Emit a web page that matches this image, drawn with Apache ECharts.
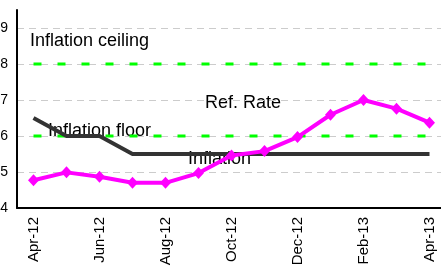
<!DOCTYPE html>
<html>
<head>
<meta charset="utf-8">
<script src="https://cdn.jsdelivr.net/npm/echarts@6/dist/echarts.min.js"></script>
<style>
  html, body { margin: 0; padding: 0; background: #fff; }
  #chart { width: 441px; height: 266px; }
</style>
</head>
<body>
<div id="chart"></div>
<script>
// monthly data, Apr-12 .. Apr-13
var months = ["Apr-12", "May-12", "Jun-12", "Jul-12", "Aug-12", "Sep-12", "Oct-12",
  "Nov-12", "Dec-12", "Jan-13", "Feb-13", "Mar-13", "Apr-13"];
var inflation = [4.77, 4.99, 4.87, 4.7, 4.7, 4.97, 5.46, 5.58, 5.97, 6.59, 7.0, 6.76, 6.37];
var refRate = [6.5, 6.0, 6.0, 5.5, 5.5, 5.5, 5.5, 5.5, 5.5, 5.5, 5.5, 5.5, 5.5];
var ceiling = [8, 8, 8, 8, 8, 8, 8, 8, 8, 8, 8, 8, 8];
var floor = [6, 6, 6, 6, 6, 6, 6, 6, 6, 6, 6, 6, 6];

var font = "Liberation Sans, Arial, sans-serif";
var chart = echarts.init(document.getElementById("chart"));

chart.setOption({
  animation: false,
  grid: { left: 17, top: 10, width: 429, bottom: 58, containLabel: false, outerBoundsMode: "none" },
  xAxis: {
    type: "category",
    data: months,
    boundaryGap: true,
    axisLine: { lineStyle: { color: "#000", width: 2 } },
    axisTick: { show: false },
    axisLabel: {
      interval: 1,
      rotate: 90,
      margin: 9,
      color: "#000",
      fontSize: 15,
      fontFamily: font
    }
  },
  yAxis: {
    type: "value",
    min: 4,
    max: 9.5,
    interval: 1,
    axisLine: { show: true, lineStyle: { color: "#000", width: 2 } },
    axisTick: { show: false },
    axisLabel: {
      showMaxLabel: false,
      margin: 9,
      color: "#000",
      fontSize: 14,
      fontFamily: font
    },
    splitLine: { showMaxLine: false, lineStyle: { color: "#ccc", type: [7, 5], width: 1 } }
  },
  series: [
    {
      name: "Inflation ceiling",
      type: "line",
      data: ceiling,
      symbol: "none",
      lineStyle: { color: "#00ff00", width: 3, type: [8, 16] }
    },
    {
      name: "Inflation floor",
      type: "line",
      data: floor,
      symbol: "none",
      lineStyle: { color: "#00ff00", width: 3, type: [8, 16] }
    },
    {
      name: "Ref. Rate",
      type: "line",
      data: refRate,
      symbol: "none",
      lineStyle: { color: "#333", width: 4 }
    },
    {
      name: "Inflation",
      type: "line",
      data: inflation,
      symbol: "diamond",
      symbolSize: [11, 12],
      itemStyle: { color: "#ff00ff" },
      lineStyle: { color: "#ff00ff", width: 4 }
    }
  ],
  graphic: [
    { type: "text", left: 30, top: 32, style: { text: "Inflation ceiling", fontSize: 18, fontFamily: font, fill: "#000" } },
    { type: "text", left: 48, top: 122, style: { text: "Inflation floor", fontSize: 18, fontFamily: font, fill: "#000" } },
    { type: "text", left: 205, top: 94, style: { text: "Ref. Rate", fontSize: 18, fontFamily: font, fill: "#000" } },
    { type: "text", left: 188, top: 150, style: { text: "Inflation", fontSize: 18, fontFamily: font, fill: "#000" } }
  ]
});
</script>
</body>
</html>
